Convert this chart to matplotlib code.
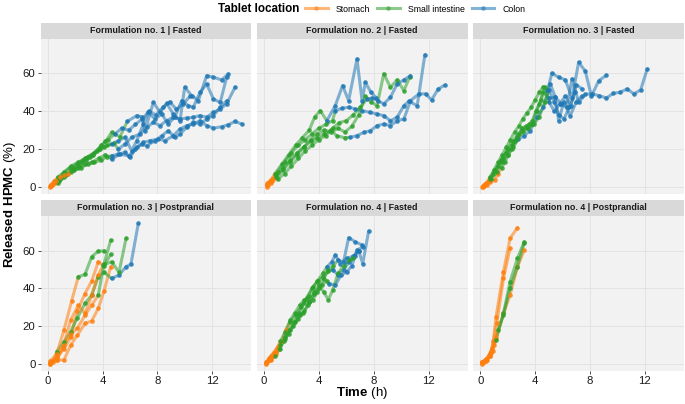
import matplotlib
matplotlib.use("Agg")
import matplotlib.pyplot as plt
from matplotlib.lines import Line2D
from matplotlib.patches import Rectangle

plt.rcParams['font.family'] = ['Liberation Sans', 'DejaVu Sans']
plt.rcParams['mathtext.fontset'] = 'custom'
plt.rcParams['mathtext.rm'] = 'Liberation Sans'
plt.rcParams['mathtext.bf'] = 'Liberation Sans:bold'

# ---------------- data ----------------
location_names = ["Stomach", "Small intestine", "Colon"]
location_keys = ["S", "G", "B"]
location_colors = ["#FF7F0E", "#2CA02C", "#1F77B4"]

panel_titles = ["Formulation no. 1 | Fasted", "Formulation no. 2 | Fasted",
                "Formulation no. 3 | Fasted", "Formulation no. 3 | Postprandial",
                "Formulation no. 4 | Fasted", "Formulation no. 4 | Postprandial"]

x_ticks = [0, 4, 8, 12]
y_ticks = [0, 20, 40, 60]

# each tablet: {location: (times [h], released HPMC [%])}
f1_fasted = [
    {"S": ([0.2, 0.5], [0.5, 2]),
     "G": ([0.9, 1.4, 1.9, 2.4, 2.9, 3.4, 3.9, 4.3], [4, 7, 9, 10, 12, 13, 14, 16]),
     "B": ([4.66, 5.15, 5.63, 6.0, 6.49, 6.98, 7.46, 8.07, 8.56, 9.17, 9.66, 10.15, 10.63, 11.12, 11.61, 12.1, 12.71, 13.2, 13.68, 14.17],
           [16.4, 17.3, 18.2, 15.6, 20.9, 23.5, 24.4, 25.3, 24.4, 27.1, 30.6, 32.4, 33.2, 35.0, 32.4, 31.1, 31.8, 32.9, 34.6, 33.2])},
    {"S": ([0.2, 0.45], [1, 3]),
     "G": ([0.7, 1.2, 1.7, 2.2, 2.7, 3.2, 3.7, 4.2, 4.66, 5.27], [5, 8, 11, 13, 15, 17, 20, 24, 28.8, 26.5]),
     "B": ([5.8, 6.49, 6.85, 7.1, 7.71, 8.2, 8.68, 9.17, 9.66, 10.0, 10.51, 11.0, 11.61, 12.1, 12.71, 13.2],
           [34.6, 37.7, 37.1, 29.7, 44.7, 39.4, 44.2, 38.5, 35.0, 52.7, 48.3, 45.6, 58.9, 58.0, 56.6, 59.8])},
    {"S": ([0.15, 0.4], [0, 1.5]),
     "G": ([0.8, 1.3, 1.8, 2.3, 2.8, 3.3, 3.8, 4.3, 4.8], [3, 6, 9, 11, 14, 17, 20, 22, 23]),
     "B": ([5.15, 5.63, 6.12, 6.73, 7.22, 7.71, 8.2, 8.68, 9.17, 9.66, 10.15, 10.63, 11.12, 11.61, 12.1, 12.6, 13.07, 13.68],
           [20, 22.6, 26.2, 27.9, 31.5, 34.1, 32.4, 35.0, 36.8, 35.9, 36.4, 36.8, 37.7, 36.8, 39.4, 41.2, 43.9, 52.7])},
    {"S": ([0.2, 0.4], [1, 2]),
     "G": ([0.6, 1.1, 1.6, 2.1, 2.6, 3.1, 3.6, 4.1], [3, 7, 10, 12, 14, 16, 19, 21]),
     "B": ([4.66, 5.15, 5.63, 6.12, 6.49, 6.98, 7.34, 7.83, 8.32, 8.8, 9.29, 9.78, 10.27, 10.63, 11.12, 11.61, 12.1, 12.6, 13.07],
           [22.6, 24.4, 26.2, 19.1, 24.4, 33.2, 39.4, 35.9, 38.5, 33.2, 37.1, 45.6, 43.0, 42.1, 50.0, 54.4, 46.5, 44.7, 58.0])},
    {"S": ([0.15, 0.45], [0.5, 2]),
     "G": ([0.7, 1.2, 1.7, 2.2, 2.7, 3.2, 3.7, 4.2], [2, 5, 8, 10, 12, 13, 15, 17]),
     "B": ([4.66, 5.27, 5.9, 6.37, 6.85, 7.22, 7.83, 8.32, 8.8, 9.29, 9.66, 10.15, 10.63, 11.12, 11.61, 12.1, 12.6, 13.07],
           [14.7, 17.3, 16.4, 19.9, 22.6, 21.7, 24.4, 27.0, 29.7, 26.2, 27.9, 31.5, 34.1, 33.2, 35.9, 37.7, 42.1, 45.6])},
    {"S": ([0.3, 0.6, 0.9, 1.2, 1.5], [1, 3, 5, 6, 7]),
     "G": ([1.9, 2.4, 2.9, 3.4, 3.9, 4.4], [10, 13, 16, 18, 22, 25]),
     "B": ([4.9, 5.4, 5.9, 6.4, 6.9, 7.4, 7.9, 8.4, 8.9, 9.4, 9.9, 10.4], [28, 31, 30, 33, 36, 40, 38, 42, 45, 41, 44, 48])},
]

f2_fasted = [
    {"S": ([0.2, 0.45], [1, 3]),
     "G": ([0.8, 1.3, 1.8, 2.3, 2.8, 3.3, 3.7, 4.1], [7, 12, 17, 22, 26, 30, 37, 40.3]),
     "B": ([4.58, 5.2, 5.73, 6.17, 6.78, 7.15, 7.39, 7.8, 8.2], [35, 43, 53.6, 45.6, 67.7, 45.6, 55.3, 50, 47])},
    {"S": ([0.2, 0.5], [0, 2]),
     "G": ([0.9, 1.4, 1.9, 2.4, 2.9, 3.4, 3.9, 4.4, 4.9, 5.3, 5.9], [6, 10, 14, 18, 21, 24, 26, 28, 30, 27, 26]),
     "B": ([6.29, 6.78, 7.27, 7.76, 8.24, 8.73, 9.22, 9.71, 10.2, 10.68, 11.3, 11.78, 12.22, 12.7, 13.2],
           [26.2, 27.1, 28.8, 29.7, 32.4, 33.2, 32.4, 35, 35.9, 45.6, 49.2, 49.2, 46, 51.8, 53.9])},
    {"S": ([0.25, 0.6], [2, 4]),
     "G": ([1.0, 1.5, 2.0, 2.5, 3.0, 3.5, 4.0, 4.5, 5.0], [8, 13, 18, 22, 25, 28, 31, 33, 35]),
     "B": ([5.2, 5.68, 6.17, 6.66, 7.15, 7.76, 8.24, 8.73, 9.22, 9.71, 10.2, 10.56, 11.17, 11.73],
           [40.3, 41.6, 42.1, 41.2, 40.3, 39.4, 38.5, 37.7, 35, 36.8, 43, 45.3, 43, 70])},
    {"S": ([0.2, 0.5], [1, 3]),
     "G": ([0.9, 1.4, 1.9, 2.4, 2.9, 3.4, 3.9, 4.4, 4.9, 5.4, 5.9, 6.4, 6.9, 7.4, 7.8, 8.24, 8.73, 9.22, 9.71, 10.2, 10.61],
           [5, 9, 13, 17, 21, 25, 28, 30, 29, 31, 29, 32, 38, 48, 45, 43, 59.8, 52.7, 56.6, 50.9, 58.0]),
     "B": ([], [])},
    {"S": ([0.3, 0.6], [1, 3]),
     "G": ([1.0, 1.5, 2.0, 2.5, 3.0, 3.5, 4.0, 4.5, 5.0, 5.5, 6.0, 6.5, 7.0], [4, 7, 11, 15, 19, 22, 25, 27, 31, 34, 35, 38, 42]),
     "B": ([7.5, 7.9, 8.3, 8.73, 9.22, 9.71, 10.2, 10.68], [46.5, 47, 45.6, 43.9, 47.4, 54.5, 56.6, 58.9])},
]

f3_fasted = [
    {"S": ([0.15, 0.4, 0.7, 1.05, 1.3], [0, 1.5, 2.5, 3.5, 7]),
     "G": ([1.55, 1.8, 2.05, 2.3, 2.55, 2.8, 3.05, 3.3, 3.55, 3.8, 4.05, 4.3, 4.55],
           [10, 13, 17, 20, 24, 28, 31, 32, 33, 35, 40, 44, 50]),
     "B": ([5.0, 5.47, 5.9, 6.3, 6.69, 7.17, 7.66, 8.15, 8.64, 9.2, 9.69, 10.17, 10.71, 11.2, 11.69, 12.17],
           [47, 47.4, 44, 42, 57.1, 44.7, 49, 49.2, 48.3, 47.0, 49.5, 50.0, 51.8, 49.2, 51.3, 62.4])},
    {"S": ([0.2, 0.45], [0.5, 2]),
     "G": ([0.7, 1.0, 1.3, 1.6, 1.9, 2.2, 2.5, 2.8, 3.1, 3.4, 3.7, 4.0, 4.3, 4.6],
           [5, 9, 13, 17, 21, 25, 29, 32, 36, 39, 42, 46, 50, 53]),
     "B": ([4.9, 5.22, 5.71, 6.2, 6.69, 7.17, 7.66, 8.1, 8.64, 9.2], [51, 60.1, 58, 56.6, 47, 65.9, 61.2, 48, 56.2, 59.1])},
    {"S": ([0.2, 0.5], [0, 1]),
     "G": ([0.8, 1.2, 1.6, 2.0, 2.4], [4, 8, 13, 17, 21]),
     "B": ([2.78, 3.2, 3.64, 4.13, 4.6, 5.1, 5.47, 5.71, 6.08, 6.56, 7.0, 7.4],
           [25.3, 27, 29.7, 36.8, 42, 54.5, 47.4, 35, 44.7, 37.7, 45, 48])},
    {"S": ([0.25, 0.6], [1, 3]),
     "G": ([0.95, 1.3, 1.65, 2.0, 2.35, 2.7, 3.05, 3.4, 3.75, 4.1, 4.45, 4.7], [7, 11, 15, 20, 24, 27, 30, 31, 33, 40, 46, 52.7]),
     "B": ([5.0, 5.4, 5.8, 6.2, 6.6, 7.0, 7.4], [45, 40, 44, 48, 43, 54, 52])},
    {"S": ([0.3], [0.5]),
     "G": ([0.7, 1.1, 1.5, 1.9, 2.3, 2.7, 3.1, 3.5, 3.9, 4.3, 4.7], [4, 9, 14, 18, 22, 26, 29, 31, 33, 37, 45]),
     "B": ([5.0, 5.4, 5.71, 6.1, 6.5, 6.9], [51, 45, 38, 36, 42, 50])},
]

f3_postprandial = [
    {"S": ([0.15, 0.63, 1.17, 1.66, 2.15, 2.71, 3.2, 3.68], [0.5, 3, 8, 14, 28, 37.3, 43.9, 54.1]),
     "G": ([4.1, 4.59], [52, 58]),
     "B": ([], [])},
    {"S": ([0.15, 0.63, 1.17, 1.66, 2.15, 2.71, 3.2, 3.68, 4.1, 4.59], [0, 2, 2, 9.9, 15.2, 21.4, 22.7, 29.4, 38.6, 51.5]),
     "G": ([], []),
     "B": ([], [])},
    {"S": ([0.15, 0.4], [0, 1]),
     "G": ([0.63, 1.17, 1.66, 2.15, 2.71, 3.2, 3.68, 4.1], [6.4, 11.7, 17, 24.4, 32, 36.4, 46.2, 48.5]),
     "B": ([4.66, 5.2, 5.71, 6.07, 6.61], [45.3, 47.1, 51.5, 52.9, 74.5])},
    {"S": ([0.15, 0.63, 1.12, 1.66, 2.22, 2.71, 3.2, 3.68], [0.5, 3.7, 9, 23.2, 31.1, 26.7, 36.4, 47.1]),
     "G": ([4.05, 4.66, 5.2, 5.71], [52.4, 54.1, 48.5, 66.5]),
     "B": ([], [])},
    {"S": ([0.15, 0.63, 1.17, 1.73], [1.5, 5, 17.9, 33.3]),
     "G": ([2.22, 2.71, 3.2, 3.68, 4.1], [46.2, 47.4, 56.8, 59.8, 59.8]),
     "B": ([], [])},
    {"S": ([0.15, 0.63, 1.17, 1.66, 2.15, 2.71, 3.2], [0.5, 2, 10, 15.6, 18.8, 25.8, 31.1]),
     "G": ([3.68, 4.1, 4.59], [36.4, 53, 65.6]),
     "B": ([], [])},
]

f4_fasted = [
    {"S": ([0.15, 0.4, 0.7, 1.0, 1.3, 1.6], [0.5, 3, 6, 9, 12, 18]),
     "G": ([1.9, 2.3, 2.7, 3.1, 3.5, 3.9, 4.3], [22, 26, 30, 35, 40, 44, 48]),
     "B": ([4.6, 4.95, 5.2, 5.56, 6.05, 6.5, 6.9, 7.2, 7.63], [51.5, 54.1, 57.7, 53.2, 56, 57, 60, 53.2, 70.4])},
    {"S": ([0.15, 0.5, 0.85], [0, 2, 5]),
     "G": ([1.2, 1.55, 1.9, 2.25, 2.6, 2.95, 3.3, 3.65, 4.0, 4.35, 4.7, 5.05], [10, 14, 18, 22, 26, 28, 33, 38, 40, 45, 50, 52]),
     "B": ([5.4, 5.8, 6.17, 6.66, 7.15], [55, 54, 66.9, 64.7, 63])},
    {"S": ([0.2, 0.5, 0.8], [1, 3, 6]),
     "G": ([1.1, 1.45, 1.8, 2.15, 2.5, 2.85, 3.2, 3.55, 3.9, 4.25, 4.6], [8, 12, 16, 20, 24, 27, 31, 34, 38, 42, 44]),
     "B": ([4.71, 5.2, 5.63, 6.05, 6.4, 6.78, 7.2], [42.6, 41.8, 47.1, 48.8, 52, 60.3, 62])},
    {"S": ([0.15, 0.45], [0.5, 2]),
     "G": ([0.8, 1.15, 1.5, 1.85, 2.2, 2.55, 2.9, 3.25, 3.6, 3.95, 4.3, 4.7], [4, 8, 13, 18, 22, 27, 32, 36, 41, 44, 46, 49]),
     "B": ([5.0, 5.4, 5.8, 6.2, 6.6, 6.9], [50, 47, 50, 54, 57, 60])},
    {"S": ([0.15, 0.5, 0.85], [1, 4, 7]),
     "G": ([1.2, 1.55, 1.9, 2.25, 2.6, 2.95, 3.3, 3.65, 4.0, 4.35, 4.7, 5.0, 5.4, 5.8, 6.2, 6.5],
           [12, 17, 23, 27, 31, 34, 33, 37, 42, 38, 34, 39, 48, 52, 55, 56]),
     "B": ([], [])},
]

f4_postprandial = [
    {"S": ([0.1, 0.3, 0.5, 0.7, 0.95, 1.15, 1.69, 2.17, 2.71], [0.5, 1, 2, 4, 12, 25, 48.8, 66.5, 72.2]),
     "G": ([], []), "B": ([], [])},
    {"S": ([0.1, 0.35, 0.6, 0.85, 1.2, 1.69, 2.17], [1, 2, 4, 8, 21.4, 45.3, 61.2]),
     "G": ([], []), "B": ([], [])},
    {"S": ([0.1, 0.4, 0.7, 0.9, 1.15, 1.69, 2.17, 2.71, 3.2], [0, 1.5, 4, 7, 13.5, 26.7, 36.4, 51.5, 60.3]),
     "G": ([], []), "B": ([], [])},
    {"S": ([0.1, 0.4, 0.7], [1, 2, 5]),
     "G": ([1.15, 1.69, 2.17, 2.71, 3.2], [12.6, 26.7, 43.5, 55.9, 64.7]),
     "B": ([], [])},
    {"S": ([0.15, 0.45, 0.75, 1.0], [0.5, 2.5, 6, 10]),
     "G": ([1.3, 1.69, 2.17, 2.71, 3.2], [18, 26, 40, 51.5, 63.9]),
     "B": ([], [])},
]

panels = [f1_fasted, f2_fasted, f3_fasted, f3_postprandial, f4_fasted, f4_postprandial]

# ---------------- layout ----------------
W, H = 685, 404
fig = plt.figure(figsize=(W / 100, H / 100), dpi=100)
fig.patch.set_facecolor("white")
cols = [(40.7, 251.0), (256.7, 467.7), (473.0, 684.0)]
rows = [(38.7, 194.0), (216.0, 371.0)]
strip_h = 16.0

panel_bg = "#F2F2F2"
grid_col = "#E3E3E3"
strip_bg = "#D9D9D9"
line_alpha = 0.55
lw = 2.2
ms = 3.3

for idx, tablets in enumerate(panels):
    r, c = divmod(idx, 3)
    x0, x1 = cols[c]
    y0, y1 = rows[r]
    ax = fig.add_axes([x0 / W, 1 - y1 / H, (x1 - x0) / W, (y1 - y0) / H])
    ax.set_facecolor(panel_bg)
    for s in ax.spines.values():
        s.set_visible(False)
    ax.set_xlim(-0.53, 14.85)
    ax.set_ylim(-3.8, 78.4)
    ax.set_xticks(x_ticks)
    ax.set_yticks(y_ticks)
    ax.grid(True, color=grid_col, lw=0.7)
    ax.set_axisbelow(True)
    ax.tick_params(axis="both", length=2.2, width=0.6, color="#333333",
                   labelsize=8.2, labelcolor="#1A1A1A", pad=1.5)
    if c != 0:
        ax.tick_params(axis="y", length=0, labelleft=False)
    if r != 1:
        ax.tick_params(axis="x", length=0, labelbottom=False)

    for tab in tablets:
        ts, vs, ks = [], [], []
        for k in location_keys:
            tt, vv = tab[k]
            ts += list(tt)
            vs += list(vv)
            ks += [k] * len(tt)
        n = len(ts)
        i = 0
        while i < n:
            j = i
            while j + 1 < n and ks[j + 1] == ks[i]:
                j += 1
            end = min(j + 2, n)
            col = location_colors[location_keys.index(ks[i])]
            ax.plot(ts[i:end], vs[i:end], color=col, lw=lw, alpha=line_alpha,
                    solid_capstyle="round", zorder=2)
            ax.plot(ts[i:j + 1], vs[i:j + 1], ls="none", marker="o", ms=ms,
                    mec="none", mfc=col, alpha=0.85, zorder=3)
            i = j + 1

    # strip
    sh = strip_h / (y1 - y0)
    ax.add_patch(Rectangle((0, 1), 1, sh, transform=ax.transAxes, facecolor=strip_bg,
                           edgecolor="none", clip_on=False))
    ax.text(0.5, 1 + sh / 2, panel_titles[idx], transform=ax.transAxes, ha="center",
            va="center", fontsize=6.4, fontweight="bold", color="#1A1A1A")

# axis titles
fig.text(362.4 / W, 1 - 393 / H, r"$\mathbf{Time}$ (h)", ha="center", va="center",
         fontsize=9.5, color="black")
fig.text(10 / W, 1 - 205 / H, r"$\mathbf{Released\ HPMC}$ (%)", ha="center", va="center",
         rotation=90, fontsize=9.5, color="black")

# legend
fig.text(299.5 / W, 1 - 9 / H, "Tablet location", ha="right", va="center",
         fontsize=8.4, fontweight="bold", color="black")
handles = [Line2D([], [], color=location_colors[i], lw=lw, alpha=line_alpha, marker="o",
                  ms=ms, mec="none", mfc=location_colors[i]) for i in range(3)]
fig.legend(handles, location_names, loc="center left",
           bbox_to_anchor=(305 / W, 1 - 9 / H), ncol=3, frameon=False,
           fontsize=6.3, handlelength=2.6, handletextpad=0.9, columnspacing=0.8,
           borderpad=0, borderaxespad=0)

fig.savefig("out.png", dpi=100, facecolor="white")
